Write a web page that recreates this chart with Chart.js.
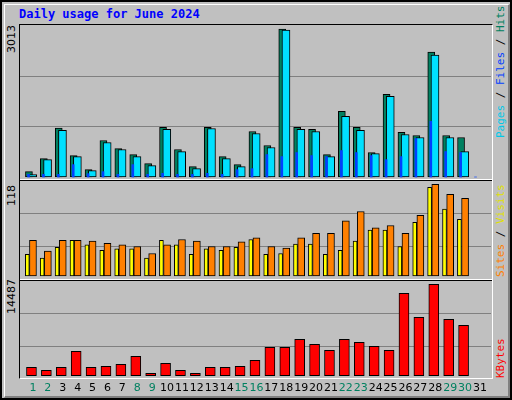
<!DOCTYPE html>
<html><head><meta charset="utf-8">
<script src="https://cdn.jsdelivr.net/npm/chart.js@4/dist/chart.umd.min.js"></script>
<style>
body{margin:0;background:#fff}
#f{position:absolute;left:0;top:0;width:508px;height:396px;background:#C0C0C0;border:2px solid #000}
#in{position:absolute;left:2px;top:2px;width:503px;height:391px;border-top:1px solid #fff;border-left:1px solid #fff;border-right:2px solid #808080;border-bottom:2px solid #808080}
canvas{position:absolute}
.t{position:absolute;font-family:'DejaVu Sans Mono',monospace;white-space:nowrap}
.r{transform-origin:0 0;transform:rotate(-90deg)}
.ln{position:absolute;height:1px}
</style></head><body>
<div id="f"><div id="in"></div></div>
<div class="t" style="left:19px;top:7px;font-size:12px;font-weight:bold;color:#0000FF">Daily usage for June 2024</div>
<div class="t r" style="left:5px;top:53px;font-size:11px;color:#000;font-family:'DejaVu Sans'">3013</div>
<div class="t r" style="left:5px;top:206px;font-size:11px;color:#000;font-family:'DejaVu Sans'">118</div>
<div class="t r" style="left:5px;top:314px;font-size:11px;color:#000;font-family:'DejaVu Sans'">14487</div>
<div class="t r" style="left:494px;top:138px;font-size:11px"><span style="color:#00C8E8">Pages</span><span style="color:#000"> / </span><span style="color:#0040FF">Files</span><span style="color:#000"> / </span><span style="color:#008060">Hits</span></div>
<div class="t r" style="left:494px;top:277px;font-size:11px"><span style="color:#FF8000">Sites</span><span style="color:#000"> / </span><span style="color:#E0E000">Visits</span></div>
<div class="t r" style="left:494px;top:378px;font-size:11px;color:#FF0000">KBytes</div>
<div style="position:absolute;left:19px;top:24px;width:472px;height:353px;border-top:1px solid #000;border-left:1px solid #000;border-right:1px solid #fff;border-bottom:1px solid #fff"></div>
<canvas id="c1" style="left:20px;top:25px;width:471px;height:155px"></canvas>
<canvas id="c2" style="left:20px;top:181px;width:471px;height:99px"></canvas>
<canvas id="c3" style="left:20px;top:281px;width:471px;height:116px"></canvas>
<div class="ln" style="left:20px;top:179px;width:472px;background:#fff"></div>
<div class="ln" style="left:20px;top:180px;width:472px;background:#000"></div>
<div class="ln" style="left:20px;top:279px;width:472px;background:#fff"></div>
<div class="ln" style="left:20px;top:280px;width:472px;background:#000"></div>
<script>
const days=[1,2,3,4,5,6,7,8,9,10,11,12,13,14,15,16,17,18,19,20,21,22,23,24,25,26,27,28,29,30,31];
const weekend=[1,2,8,9,15,16,22,23,29,30];
const hits=[109,375,995,436,150,743,579,457,273,1009,559,211,1009,416,252,927,641,3013,1009,968,457,1336,1009,498,1684,907,845,2543,845,804,0];
const files=[48,354,948,416,130,702,559,416,232,968,518,170,988,375,211,886,600,2993,968,927,416,1234,948,477,1643,866,804,2481,804,518,0];
const pages=[55,55,55,252,68,109,55,252,55,75,55,55,75,55,150,170,457,416,498,436,416,539,498,436,354,416,784,1132,518,498,0];
const visits=[28,23,37,46,40,33,35,35,23,46,40,28,35,33,37,47,28,29,41,41,28,33,45,59,59,38,69,114,86,73,0];
const sites=[46,32,46,46,45,42,40,38,29,40,47,45,38,38,44,49,38,36,49,55,55,71,83,62,65,55,78,118,105,100,0];
const kbytes=[1322,846,1322,3860,1322,1480,1798,3066,370,1956,846,370,1322,1322,1480,2432,4494,4494,5763,4970,4018,5763,5287,4653,4018,13059,9252,14487,8935,7983,0];
const maxHits=3013,maxVisits=118,maxKB=14487;

function pts(arr,off){return days.map((d,i)=>({x:d+off,y:arr[i]}));}
function ds(arr,off,color,w,order,bw){return {data:pts(arr,off),backgroundColor:color,borderColor:'#000',borderWidth:bw,barThickness:w,grouped:false,order:order,borderSkipped:false};}
function mk(id,datasets,ymin,ymax,gridFr,max,padBottom,plugins){
  return new Chart(document.getElementById(id),{type:'bar',data:{datasets},
    options:{responsive:false,animation:false,devicePixelRatio:1,events:[],
      layout:{padding:{bottom:padBottom||0}},
      plugins:{legend:{display:false},tooltip:{enabled:false}},
      scales:{x:{type:'linear',min:0.13,max:31.74,display:false,offset:false},
        y:{min:ymin,max:ymax,display:true,ticks:{display:false},border:{display:false},
          grid:{color:'#808080',lineWidth:1,drawTicks:false},
          afterBuildTicks:s=>{s.ticks=gridFr.map(f=>({value:f*max}));}}}},
    plugins:plugins||[]});
}
['c1','c2','c3'].forEach((id,i)=>{const c=document.getElementById(id);c.width=471;c.height=[155,99,116][i];});
mk('c1',[ds(pages,-0.3,'#0040FF',2,0,0),ds(files,-0.02,'#00E0FF',8,1,1),ds(hits,-0.27,'#008060',7,2,1)],-61,3094,[0.34,0.68],maxHits);
mk('c2',[ds(visits,-0.38,'#FFFF00',4,0,1),ds(sites,0,'#FF8000',7,1,1)],-5.1,122.2,[0.326,0.685],maxVisits);
const lbl={id:'lbl',afterDraw(ch){const c=ch.ctx,x=ch.scales.x;c.save();c.font='11px "DejaVu Sans"';c.textAlign='center';c.textBaseline='middle';
  days.forEach(d=>{c.fillStyle=weekend.includes(d)?'#008060':'#000';c.fillText(String(d),x.getPixelForValue(d),ch.chartArea.bottom+11);});c.restore();}};
mk('c3',[ds(kbytes,-0.1,'#FF0000',10,0,1)],-206,15010,[0.32,0.68],maxKB,20,[lbl]);
</script></body></html>
